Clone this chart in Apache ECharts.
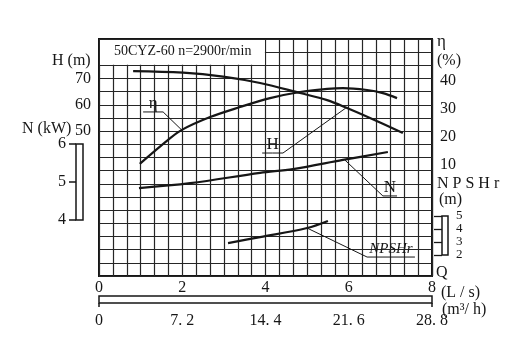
<!DOCTYPE html>
<html>
<head>
<meta charset="utf-8">
<script src="https://cdn.jsdelivr.net/npm/echarts@6/dist/echarts.min.js"></script>
<style>
  html, body { margin: 0; background: #fff; }
  #main { width: 520px; height: 355px; }
</style>
</head>
<body>
<div id="main"></div>
<script>
// curve points, Q in L/s
const headQ = [0.82, 2.02, 2.98, 3.87, 4.83, 5.48, 5.96, 6.51, 7.30]
const headH = [72.8, 72.2, 70.7, 68.3, 64.5, 61.8, 58.8, 55.0, 49.3]
const effQ = [0.98, 1.66, 1.99, 2.67, 3.39, 4.11, 4.83, 5.48, 5.86, 6.44, 6.82, 7.16]
const effEta = [10.2, 18.8, 22.4, 27.0, 30.6, 33.8, 36.0, 37.1, 37.4, 36.7, 35.6, 33.8]
const powQ = [0.96, 2.19, 3.87, 4.66, 5.86, 6.94]
const powN = [4.84, 4.97, 5.24, 5.34, 5.58, 5.79]
const npshQ = [3.10, 3.87, 5.00, 5.50]
const npshR = [2.92, 3.38, 4.08, 4.62]

// tick labels
const qTicks = [0, 2, 4, 6, 8]
const m3hTicks = [0, 7.2, 14.4, 21.6, 28.8]
const hTicks = [50, 60, 70]
const etaTicks = [10, 20, 30, 40]
const nTicks = [4, 5, 6]
const npshTicks = [2, 3, 4, 5]

// callouts: text + leader path, in (Q, H) units
const calloutText = ['η', 'H', 'N', 'NPSHr']
const calloutPath = [
  [[1.06, 57.3], [1.54, 57.3], [1.99, 50.4]],
  [[3.92, 41.7], [4.42, 41.7], [5.93, 58.8]],
  [[5.91, 39.0], [6.82, 25.4], [7.16, 25.4]],
  [[5.00, 13.2], [6.44, 2.2], [7.59, 2.2]]
]

const ink = '#161616'
const serif = '"Liberation Serif", "DejaVu Serif", serif'
const zip = (xs, ys) => xs.map((x, i) => [x, ys[i]])
const near = (v, list) => list.some(t => Math.abs(v - t) < 1e-6)

function curve(name, q, v, yIdx) {
  return {
    name, type: 'line', xAxisIndex: 0, yAxisIndex: yIdx,
    data: zip(q, v), smooth: 0.35, symbol: 'none',
    lineStyle: { color: ink, width: 2.2 }
  }
}

function callout(text, path) {
  // the underline is the flat pair of the path, text sits over its middle
  const i = path[0][1] === path[1][1] ? 0 : 1
  const mid = [(path[i][0] + path[i + 1][0]) / 2, path[i][1]]
  const data = path.map(p => ({ value: p }))
  data.splice(i + 1, 0, {
    value: mid,
    label: {
      show: true, position: 'top', distance: 0, formatter: text,
      fontFamily: serif, fontSize: text.length > 1 ? 15 : 17,
      fontStyle: text.length > 1 ? 'italic' : 'normal', color: ink
    }
  })
  return {
    type: 'line', xAxisIndex: 0, yAxisIndex: 0, data,
    symbol: 'circle', symbolSize: 0, showSymbol: true,
    lineStyle: { color: ink, width: 1 }, silent: true
  }
}

const labelStyle = { fontFamily: serif, fontSize: 16, color: ink }

const chart = echarts.init(document.getElementById('main'))
const option = {
  animation: false,
  backgroundColor: '#fff',
  grid: [
    { left: 99, top: 39, width: 333, height: 237, show: true, borderColor: ink, borderWidth: 2 },
    { left: 76, top: 144, width: 7, height: 76, show: true, borderColor: ink, borderWidth: 1.5 },
    { left: 442, top: 216, width: 6, height: 39, show: true, borderColor: ink, borderWidth: 1.5 },
    { left: 99, top: 296, width: 333, height: 7, show: true, borderColor: ink, borderWidth: 1.5 }
  ],
  xAxis: [
    {
      gridIndex: 0, type: 'value', min: 0, max: 8, interval: 1 / 3, position: 'bottom',
      axisLine: { show: false }, axisTick: { show: false },
      splitLine: { lineStyle: { color: '#262626', width: 1.2 } },
      axisLabel: {
        ...labelStyle, margin: 4,
        formatter: v => near(v, qTicks) ? String(Math.round(v)) : ''
      }
    },
    { gridIndex: 1, type: 'value', show: false },
    { gridIndex: 2, type: 'value', show: false },
    {
      gridIndex: 3, type: 'value', min: 0, max: 28.8, interval: 7.2, position: 'bottom',
      axisLine: { show: false }, splitLine: { show: false },
      axisTick: { show: true, customValues: [0, 28.8], length: 4, lineStyle: { color: ink, width: 1.5 } },
      axisLabel: {
        ...labelStyle, margin: 10,
        formatter: v => near(v, m3hTicks) ? (Number.isInteger(v) ? String(v) : v.toFixed(1).replace('.', '. ')) : ''
      }
    }
  ],
  yAxis: [
    {
      gridIndex: 0, type: 'value', min: -5, max: 85, interval: 5, position: 'left',
      axisLine: { show: false }, axisTick: { show: false },
      splitLine: { lineStyle: { color: '#262626', width: 1.2 } },
      axisLabel: { ...labelStyle, margin: 8, formatter: v => near(v, hTicks) ? String(v) : '' }
    },
    {
      gridIndex: 0, type: 'value', min: -30, max: 55, interval: 10, position: 'right',
      axisLine: { show: false }, axisTick: { show: false }, splitLine: { show: false },
      axisLabel: { ...labelStyle, margin: 8, formatter: v => near(v, etaTicks) ? String(v) : '' }
    },
    // N and NPSHr on the main plot, scaled to match their little scale bars
    { gridIndex: 0, type: 'value', min: 2.526, max: 8.763, show: false },
    { gridIndex: 0, type: 'value', min: 0.385, max: 18.615, show: false },
    {
      gridIndex: 1, type: 'value', min: 4, max: 6, interval: 1, position: 'left',
      axisLine: { show: false }, splitLine: { show: false },
      axisTick: { show: true, length: 7, customValues: nTicks, lineStyle: { color: ink, width: 1.5 } },
      axisLabel: { ...labelStyle, margin: 10, customValues: nTicks }
    },
    {
      gridIndex: 2, type: 'value', min: 2, max: 5, interval: 1, position: 'right',
      axisLine: { show: false }, splitLine: { show: false },
      axisTick: { show: true, inside: true, length: 8, customValues: npshTicks, lineStyle: { color: ink, width: 1.3 } },
      axisLabel: {
        ...labelStyle, fontSize: 13, lineHeight: 12, margin: 8,
        customValues: npshTicks, hideOverlap: false
      }
    },
    { gridIndex: 3, type: 'value', show: false }
  ],
  series: [
    curve('H', headQ, headH, 0),
    curve('η', effQ, effEta, 1),
    curve('N', powQ, powN, 2),
    curve('NPSHr', npshQ, npshR, 3),
    ...calloutText.map((t, i) => callout(t, calloutPath[i]))
  ]
}
chart.setOption(option)

// title cell in the top-left corner of the grid, and the axis titles
const p0 = chart.convertToPixel({ xAxisIndex: 0, yAxisIndex: 0 }, [0, 85])
const p1 = chart.convertToPixel({ xAxisIndex: 0, yAxisIndex: 0 }, [4, 75])
const txt = (left, top, text, extra) => ({
  type: 'text', left, top, z: 20,
  style: { text, fill: ink, font: '16px ' + serif, ...extra }
})
chart.setOption({
  graphic: [
    {
      type: 'rect', z: 10,
      shape: { x: p0[0] + 1, y: p0[1] + 1, width: p1[0] - p0[0] - 1.6, height: p1[1] - p0[1] - 1.6 },
      style: { fill: '#fff' }
    },
    txt(p0[0] + 15, p0[1] + 5, '50CYZ-60 n=2900r/min', { font: '14px ' + serif }),
    txt(52, 53, 'H (m)'),
    txt(22, 121, 'N (kW)'),
    txt(437, 33, 'η', { font: '17px ' + serif }),
    txt(437, 53, '(%)'),
    txt(437, 176, 'N P S H r'),
    txt(439, 192, '(m)'),
    txt(436, 265, 'Q'),
    txt(441, 285, '(L / s)'),
    txt(442, 302, '(m³/ h)')
  ]
})
</script>
</body>
</html>
